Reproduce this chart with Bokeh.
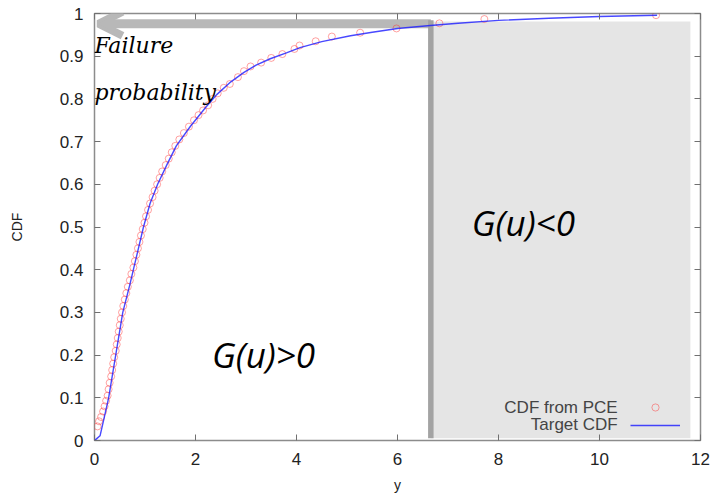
from bokeh.plotting import figure
from bokeh.models import (Range1d, FixedTicker, LinearAxis, Label, Arrow, OpenHead,
                          Legend, LegendItem)
from bokeh.core.properties import value
from bokeh.embed import file_html
from bokeh.resources import INLINE

# ---- data ----
pce_x = [0.06, 0.09, 0.13, 0.17, 0.20, 0.23, 0.26, 0.28, 0.30, 0.33, 0.35, 0.37, 0.39,
         0.42, 0.44, 0.46, 0.48, 0.50, 0.52, 0.545, 0.57, 0.60, 0.63, 0.66, 0.70, 0.73,
         0.77, 0.80, 0.83, 0.86, 0.89, 0.92, 0.955, 0.99, 1.02, 1.06, 1.10, 1.15, 1.19,
         1.24, 1.29, 1.34, 1.41, 1.47, 1.53, 1.60, 1.68, 1.77, 1.87, 1.97, 2.06, 2.15,
         2.25, 2.34, 2.44, 2.56, 2.68, 2.84, 2.96, 3.09, 3.30, 3.50, 3.72, 3.96, 4.06,
         4.38, 4.70, 5.26, 5.98, 6.83, 7.72, 11.12]
pce_cdf = [0.033, 0.045, 0.055, 0.068, 0.080, 0.093, 0.105, 0.120, 0.135, 0.150, 0.165,
           0.180, 0.195, 0.210, 0.225, 0.240, 0.255, 0.270, 0.285, 0.300, 0.315, 0.330,
           0.345, 0.360, 0.375, 0.390, 0.405, 0.420, 0.435, 0.450, 0.465, 0.480, 0.495,
           0.510, 0.525, 0.540, 0.555, 0.570, 0.585, 0.600, 0.615, 0.630, 0.645, 0.660,
           0.675, 0.690, 0.705, 0.720, 0.735, 0.750, 0.762, 0.773, 0.785, 0.800, 0.813,
           0.826, 0.835, 0.851, 0.865, 0.876, 0.885, 0.896, 0.905, 0.917, 0.925, 0.935,
           0.946, 0.955, 0.965, 0.977, 0.987, 0.996]

target_x = [0, 0.05, 0.11, 0.18, 0.28, 0.42, 0.56, 0.70, 0.77, 0.85, 0.97, 1.10, 1.25,
            1.43, 1.62, 1.90, 2.20, 2.42, 2.70, 2.96, 3.20, 3.48, 3.80, 4.07, 4.50, 5.07,
            5.50, 6.00, 6.65, 7.20, 8.00, 9.00, 10.00, 11.14]
target_cdf = [0, 0.005, 0.011, 0.047, 0.100, 0.200, 0.300, 0.365, 0.400, 0.440, 0.500,
              0.555, 0.600, 0.645, 0.690, 0.736, 0.780, 0.810, 0.840, 0.862, 0.879, 0.894,
              0.908, 0.920, 0.934, 0.948, 0.956, 0.965, 0.972, 0.977, 0.984, 0.989, 0.993,
              0.996]

x_ticks = [0, 2, 4, 6, 8, 10, 12]
x_tick_labels = ["0", "2", "4", "6", "8", "10", "12"]
y_ticks = [0, 0.1, 0.2, 0.3, 0.4, 0.5, 0.6, 0.7, 0.8, 0.9, 1]
y_tick_labels = ["0", "0.1", "0.2", "0.3", "0.4", "0.5", "0.6", "0.7", "0.8", "0.9", "1"]

threshold = 6.66          # limit-state value y where G(u)=0
region_right = 11.8
region_bottom = 0.005
region_top = 0.981
bar_top = 0.984
arrow_level = 0.976
arrow_tip = 0.08

TICK_FONT = "Liberation Sans"

p = figure(width=712, height=495, x_range=Range1d(0, 12), y_range=Range1d(0, 1),
           output_backend="svg", toolbar_location=None,
           min_border_left=94, min_border_right=12, min_border_top=13, min_border_bottom=55)
p.grid.visible = False
p.outline_line_color = "#8c8c8c"
p.outline_line_width = 1.5
p.background_fill_color = "white"
p.border_fill_color = "white"

# failure region
p.quad(left=[threshold], right=[region_right], bottom=[region_bottom], top=[region_top],
       fill_color="#e5e5e5", line_color=None)
p.segment(x0=[threshold], y0=[region_bottom], x1=[threshold], y1=[bar_top],
          line_color="#a3a3a3", line_width=5.5)

arrow = Arrow(end=OpenHead(size=24, line_width=8, line_color="#b8b8b8"),
              x_start=threshold, y_start=arrow_level, x_end=arrow_tip, y_end=arrow_level,
              line_width=9, line_color="#b8b8b8", level="underlay")
p.add_layout(arrow)

r_pts = p.scatter(pce_x, pce_cdf, marker="circle", size=7, fill_color=None,
                  line_color="#ff3030", line_alpha=0.45, line_width=1)
r_line = p.line(target_x, target_cdf, line_color="#1a1aff", line_alpha=0.8, line_width=1.4)

# axes
def style_axis(ax, ticks, labels, show_labels=True):
    ax.ticker = FixedTicker(ticks=ticks)
    ax.axis_line_color = None
    ax.major_tick_in = 6
    ax.major_tick_out = 0
    ax.major_tick_line_color = "#707070"
    ax.major_tick_line_width = 1
    ax.minor_tick_line_color = None
    ax.major_label_text_font = TICK_FONT
    ax.major_label_text_color = "#222222"
    if show_labels:
        ax.major_label_text_font_size = "17px"
        ax.major_label_overrides = dict(zip(ticks, labels))
    else:
        ax.major_label_text_font_size = "1px"
        ax.major_label_overrides = {t: "" for t in ticks}
        ax.major_label_standoff = 0

style_axis(p.xaxis[0], x_ticks, x_tick_labels)
style_axis(p.yaxis[0], y_ticks, y_tick_labels)
p.xaxis.major_label_standoff = 12
p.yaxis.major_label_standoff = 11
p.xaxis.axis_label = "y"
p.yaxis.axis_label = "CDF"
for ax in (p.xaxis[0], p.yaxis[0]):
    ax.axis_label_text_font = TICK_FONT
    ax.axis_label_text_font_style = "normal"
    ax.axis_label_text_font_size = "14px"
    ax.axis_label_text_color = "#222222"
p.xaxis.axis_label_standoff = 9
p.yaxis.axis_label_standoff = 32

top_ax = LinearAxis()
style_axis(top_ax, x_ticks, x_tick_labels, show_labels=False)
p.add_layout(top_ax, "above")
right_ax = LinearAxis()
style_axis(right_ax, y_ticks, y_tick_labels, show_labels=False)
p.add_layout(right_ax, "right")

# annotations
for txt, yy in (("Failure", 0.924), ("probability", 0.815)):
    p.add_layout(Label(x=0.0, y=yy, text=txt, text_font="DejaVu Serif",
                       text_font_style="italic", text_font_size="22px",
                       text_color="black", text_baseline="alphabetic"))
p.add_layout(Label(x=2.325, y=0.202, text="G(u)>0", text_font="Open Sans",
                   text_font_style="italic", text_font_size="35px", text_color="black",
                   text_baseline="alphabetic"))
p.add_layout(Label(x=7.47, y=0.511, text="G(u)<0", text_font="Open Sans",
                   text_font_style="italic", text_font_size="35px", text_color="black",
                   text_baseline="alphabetic"))

# legend (gnuplot style: label left of sample)
legend = Legend(items=[LegendItem(label=value(" "), renderers=[r_pts]),
                       LegendItem(label=value(" "), renderers=[r_line])],
                location=(536, 6), glyph_width=50, glyph_height=18, label_height=18,
                label_width=0, label_standoff=0, padding=0, spacing=0, margin=0,
                border_line_alpha=0, background_fill_alpha=0, label_text_font_size="17px")
p.add_layout(legend)
for txt, yy in (("CDF from PCE", 0.078), ("Target CDF", 0.038)):
    p.add_layout(Label(x=10.36, y=yy, text=txt, text_align="right", text_baseline="middle",
                       text_font=TICK_FONT, text_font_size="17px", text_color="#444444"))

open("out.html", "w").write(file_html(p, INLINE))
